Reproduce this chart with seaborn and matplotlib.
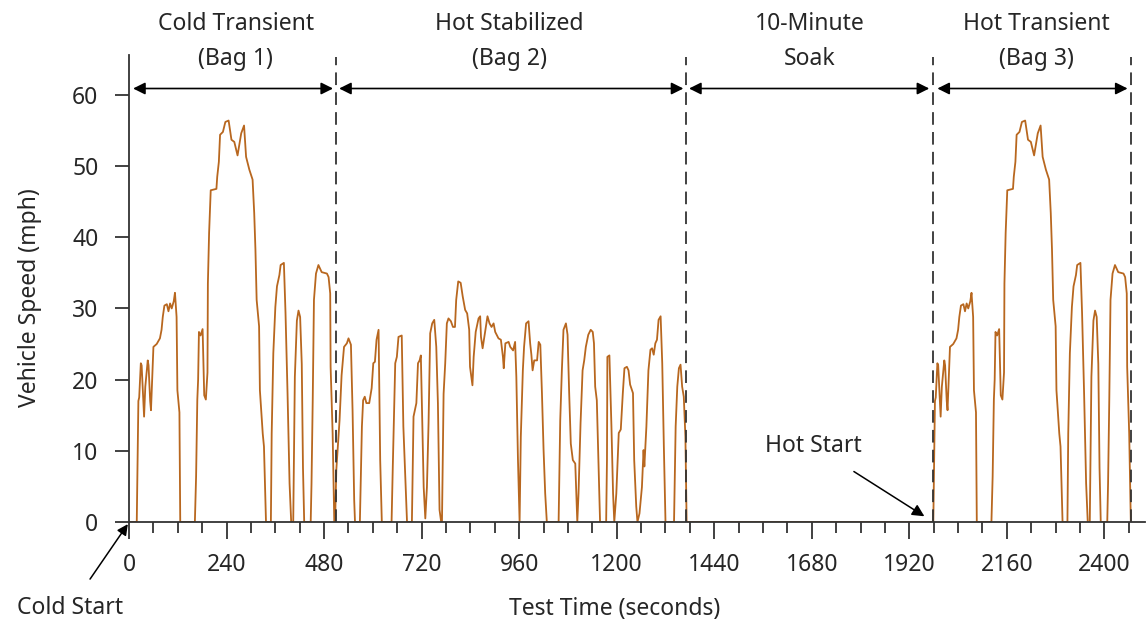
import pandas as pd
import matplotlib
matplotlib.use('Agg')
import matplotlib.pyplot as plt
from matplotlib.ticker import MultipleLocator
import seaborn as sns

# Bag 1 (cold transient) speed trace: (seconds, mph)
bag1 = [(0, 0), (19, 0), (21, 8), (23, 17), (25, 17.5), (29, 22.3), (31, 22), (35, 17),
        (37, 14.8), (40, 19), (46, 22.7), (48, 22), (52, 17), (54, 15.7), (57, 20),
        (60, 24.6), (68, 25), (76, 25.8), (80, 27), (83, 28.8), (87, 30.4), (93, 30.6),
        (97, 29.6), (101, 30.7), (105, 30), (110, 31), (113, 32.2), (117, 28.8),
        (119, 18.5), (124, 15.4), (126, 0), (162, 0), (165, 6.4), (168, 17.2), (170, 20),
        (172, 26.7), (176, 26.2), (181, 27.1), (185, 17.8), (189, 17.2), (193, 21),
        (194, 33.5), (197, 40.6), (201, 46.6), (215, 46.8), (217, 48.5), (221, 50.6),
        (224, 54.4), (231, 54.8), (237, 56.2), (245, 56.4), (252, 53.7), (259, 53.4),
        (267, 51.5), (276, 54.6), (283, 55.7), (288, 51.3), (296, 49.5), (304, 48.1),
        (308, 43.4), (311, 38.3), (314, 31.2), (320, 27.5), (322, 18.5), (329, 12.4),
        (332, 10.6), (337, 0), (349, 0), (351, 12.4), (355, 23.7), (360, 30.2),
        (364, 33.1), (370, 34.7), (373, 36.1), (381, 36.4), (385, 29.4), (390, 18.1),
        (395, 5.4), (399, 0), (404, 0), (408, 20.4), (413, 28.3), (417, 29.7),
        (421, 28.8), (425, 22.2), (428, 7.6), (431, 0), (447, 0), (449, 5.4), (452, 17.2),
        (455, 31.2), (460, 34.9), (466, 36.1), (474, 35.1), (487, 34.9), (491, 34.4),
        (495, 32.1), (496, 21.8), (501, 12.4), (505, 0)]

# Bag 2 (hot stabilized)
bag2 = [(507, 0), (510, 7.3), (518, 14.3), (523, 20.6), (529, 24.6), (536, 25.1),
        (540, 25.8), (546, 24.9), (550, 15.7), (554, 3.1), (556, 0), (568, 0), (573, 13.4),
        (576, 17.1), (580, 17.6), (584, 16.7), (591, 16.7), (597, 18.8), (601, 22.3),
        (605, 22.5), (609, 25.6), (614, 27), (618, 8.7), (622, 0), (646, 0), (649, 7.8),
        (655, 22.3), (659, 23.2), (663, 26), (671, 26.2), (675, 13.4), (680, 5.9),
        (684, 0), (696, 0), (700, 14.8), (707, 16.7), (711, 22.3), (715, 22.7),
        (718, 23.4), (721, 15.7), (725, 4.9), (729, 0.5), (733, 4.9), (737, 13.9),
        (741, 26.5), (746, 27.9), (751, 28.4), (756, 24.6), (760, 16.7), (764, 1.7),
        (768, 0), (770, 0), (774, 18), (778, 22.3), (782, 27.9), (786, 28.6), (792, 28.2),
        (797, 27.4), (802, 27.4), (805, 31.2), (810, 33.8), (816, 33.6), (821, 31.7),
        (827, 29.8), (832, 29.3), (837, 27), (839, 21.8), (845, 19.2), (848, 23.2),
        (853, 26.7), (860, 28.6), (864, 28.9), (866, 26), (870, 24.4), (876, 26.7),
        (882, 28.9), (887, 27.9), (892, 27.4), (897, 27.9), (901, 26.7), (909, 25.8),
        (915, 25.6), (920, 23.2), (922, 21.6), (926, 25.1), (934, 25.3), (938, 24.6),
        (945, 24.1), (950, 25.3), (953, 20.4), (957, 8.7), (961, 0), (964, 12),
        (969, 21.3), (972, 24.6), (977, 27.9), (983, 28.2), (987, 25.1), (990, 23.5),
        (993, 21.3), (997, 22.7), (1004, 22.7), (1008, 25.3), (1012, 24.9), (1016, 18.1),
        (1020, 10.1), (1024, 4), (1028, 0), (1057, 0), (1061, 14.3), (1065, 21.3),
        (1069, 27), (1075, 27.9), (1079, 26.3), (1083, 18.1), (1087, 11), (1092, 8.7),
        (1098, 8.2), (1100, 5), (1103, 0), (1106, 4), (1111, 13.9), (1116, 21.3),
        (1120, 22.7), (1124, 24.6), (1130, 26.3), (1136, 27), (1141, 26.7), (1144, 25.1),
        (1147, 19), (1151, 17.1), (1155, 8.7), (1159, 0), (1174, 0), (1176, 8.7),
        (1177, 23.2), (1182, 23.4), (1187, 13.4), (1191, 4), (1194, 0), (1199, 4),
        (1205, 12.5), (1210, 13), (1215, 18.1), (1219, 21.6), (1225, 21.8), (1229, 21.3),
        (1233, 19.3), (1240, 18.1), (1243, 8.7), (1248, 2.2), (1251, 0), (1256, 1.2),
        (1262, 4.9), (1266, 10.1), (1268, 7.8), (1273, 13.4), (1278, 21.3), (1283, 24.2),
        (1287, 24.4), (1291, 23.5), (1295, 25.1), (1299, 25.6), (1303, 28.4),
        (1308, 28.9), (1312, 22.3), (1316, 10.5), (1320, 0), (1341, 0), (1345, 13.4),
        (1349, 19), (1353, 21.6), (1357, 22.1), (1361, 19), (1365, 17.6), (1369, 12),
        (1372, 0)]

# Bag 3 repeats bag 1 after the 10-minute soak
hot_shift = 1960

phase_bounds = [509, 1371, 1979, 2466]
phase_titles = [('Cold Transient', '(Bag 1)'), ('Hot Stabilized', '(Bag 2)'),
                ('10-Minute', 'Soak'), ('Hot Transient', '(Bag 3)')]
phase_centers = [263, 935, 1676, 2233]
arrow_spans = [(10, 502), (517, 1364), (1378, 1969), (1989, 2457)]

x_ticks = list(range(0, 2401, 240))
y_ticks = list(range(0, 61, 10))

rows = bag1 + bag2 + [(t + hot_shift, v) for t, v in bag1]
df = pd.DataFrame(rows, columns=['time', 'speed'])

sns.set_style('ticks')
plt.rcParams['font.family'] = ['Noto Sans', 'DejaVu Sans']

fig = plt.figure(figsize=(11.47, 6.27), dpi=100)
ax = fig.add_axes([0.1125, 0.1675, 0.8858, 0.7447])

sns.lineplot(data=df, x='time', y='speed', estimator=None, sort=False,
             color='#b8671f', lw=1.3, ax=ax)

ax.set_xlim(0, 2500)
ax.set_ylim(0, 65.6)
ax.set_xticks(x_ticks)
ax.set_yticks(y_ticks)
ax.xaxis.set_minor_locator(MultipleLocator(60))
ax.tick_params(axis='both', which='major', labelsize=16.5, direction='out',
               width=1.3, color='#333333')
ax.tick_params(axis='x', which='major', length=12, pad=10)
ax.tick_params(axis='y', which='major', length=10, pad=12)
ax.tick_params(axis='x', which='minor', length=8, width=1.3, color='#333333')
for side in ['top', 'right']:
    ax.spines[side].set_visible(False)
for side in ['left', 'bottom']:
    ax.spines[side].set_color('#333333')
    ax.spines[side].set_linewidth(1.3)

ax.set_xlabel('Test Time (seconds)', fontsize=16.5)
ax.set_ylabel('Vehicle Speed (mph)', fontsize=16.5)
ax.xaxis.set_label_coords(0.478, -0.16)
ax.yaxis.set_label_coords(-0.086, 0.48)

for b in phase_bounds:
    ax.axvline(b, ymax=0.995, color='#333333', lw=1.3, ls=(0, (7, 4)))

for (top, bottom), xc in zip(phase_titles, phase_centers):
    ax.text(xc, 70.0, top, ha='center', va='center', fontsize=16.5, clip_on=False)
    ax.text(xc, 65.0, bottom, ha='center', va='center', fontsize=16.5, clip_on=False)

for x0, x1 in arrow_spans:
    ax.annotate('', xy=(x1, 60.9), xytext=(x0, 60.9),
                arrowprops=dict(arrowstyle='<|-|>', color='black', lw=1.2,
                                mutation_scale=18, shrinkA=0, shrinkB=0))

ax.annotate('Hot Start', xy=(1957, 0.8), xytext=(1684, 10.7), fontsize=16.5,
            ha='center', va='center',
            arrowprops=dict(arrowstyle='-|>', color='black', lw=1.1,
                            mutation_scale=18, shrinkA=14, shrinkB=0))
ax.annotate('Cold Start', xy=(-3, -0.3), xytext=(-145, -12.1), fontsize=16.5,
            ha='center', va='center', annotation_clip=False,
            arrowprops=dict(arrowstyle='-|>', color='black', lw=1.1,
                            mutation_scale=16, shrinkA=12, shrinkB=0))

plt.savefig('out.png', dpi=100)
